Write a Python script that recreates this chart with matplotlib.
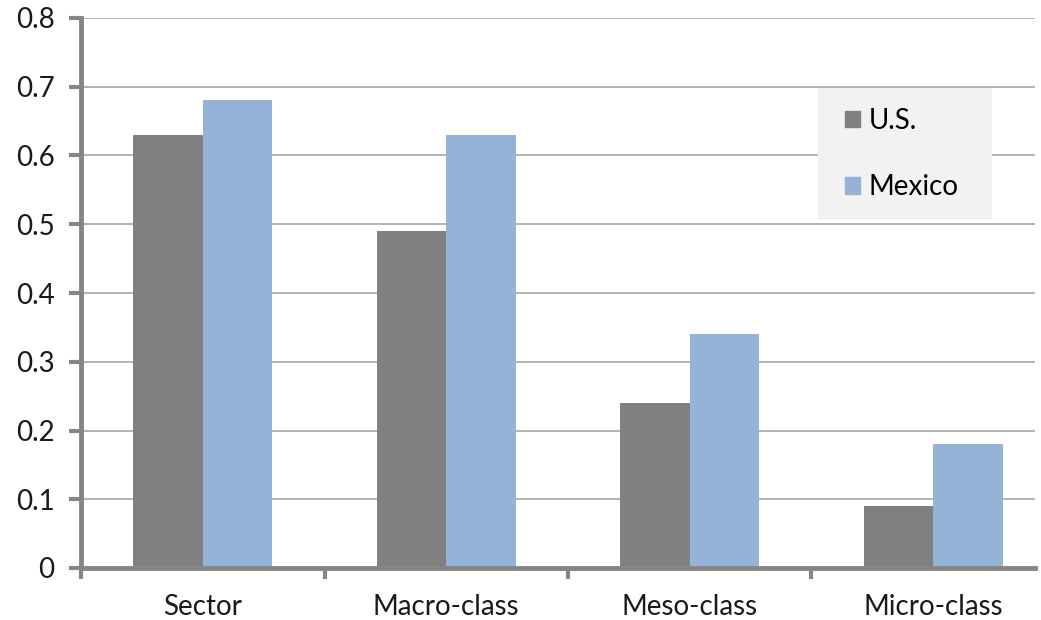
import numpy as np
import matplotlib.pyplot as plt
from matplotlib.patches import Patch, Rectangle

plt.rcParams["font.family"] = ["Lato", "DejaVu Sans"]

categories = ["Sector", "Macro-class", "Meso-class", "Micro-class"]
us = [0.63, 0.49, 0.24, 0.09]
mexico = [0.68, 0.63, 0.34, 0.18]

us_color = "#808080"
mx_color = "#95B3D7"
axis_color = "#868686"

fig = plt.figure(figsize=(10.41, 6.2), dpi=100)
W, H = 1041, 620
left, right, top, bottom = 81, 1035, 18, 568
ax = fig.add_axes([left / W, 1 - bottom / H, (right - left) / W, (bottom - top) / H])

x = np.arange(len(categories))
bw = 1 / 3.5
ax.bar(x - bw / 2, us, bw, color=us_color, zorder=2)
ax.bar(x + bw / 2, mexico, bw, color=mx_color, zorder=2)

ax.set_yticks(np.arange(0, 0.81, 0.1))
ax.set_yticklabels(["0"] + ["%.1f" % v for v in np.arange(0.1, 0.81, 0.1)])
ax.yaxis.grid(True, color="#A6A6A6", linewidth=1.2, zorder=0)

ax.set_xticks(np.arange(-0.5, 3.6, 1.0))
ax.set_xticklabels([])
ax.set_xticks(x, minor=True)
ax.set_xticklabels(categories, minor=True)
ax.set_ylim(0, 0.8)
ax.set_xlim(-0.5, -0.5 + (right - left) / 243.5)
ax.tick_params(axis="x", which="minor", length=0, pad=19, labelsize=20, labelcolor="#1a1a1a")
ax.tick_params(axis="x", which="major", length=8, width=3, color=axis_color, direction="out")
ax.tick_params(axis="y", length=9, width=3, color=axis_color, direction="out",
               labelsize=20, labelcolor="#1a1a1a", pad=10)

for s in ["top", "right"]:
    ax.spines[s].set_visible(False)
for s in ["left", "bottom"]:
    ax.spines[s].set_color(axis_color)
    ax.spines[s].set_linewidth(3.5)

# legend background box
bx0, bx1, by0, by1 = 818, 992, 88, 220
fig.patches.append(Rectangle((bx0 / W, 1 - by1 / H), (bx1 - bx0) / W, (by1 - by0) / H,
                             transform=fig.transFigure, facecolor="#F2F2F2",
                             edgecolor="none", zorder=3))
handles = [Patch(color=us_color, label="U.S."), Patch(color=mx_color, label="Mexico")]
leg = fig.legend(handles=handles, loc="center left",
                 bbox_to_anchor=(845 / W, 1 - (by0 + by1) / 2 / H),
                 frameon=False, fontsize=20, handlelength=0.55, handleheight=0.55,
                 handletextpad=0.3, labelspacing=1.45, borderpad=0, borderaxespad=0)
leg.set_zorder(4)

fig.savefig("out.png", dpi=100)
